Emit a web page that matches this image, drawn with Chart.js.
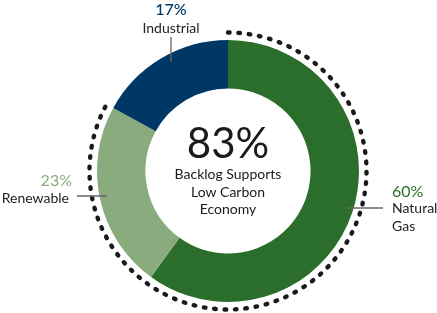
<!DOCTYPE html>
<html>
<head>
<meta charset="utf-8">
<script src="https://cdn.jsdelivr.net/npm/chart.js@4"></script>
<style>
  html, body { margin: 0; padding: 0; background: #fff; }
  #wrap { width: 437px; height: 313px; }
</style>
</head>
<body>
<div id="wrap"><canvas id="myChart"></canvas></div>
<script>
let categories = ['Natural Gas', 'Renewable', 'Industrial'];
let shares = [60, 23, 17];
let colors = ['#2b6e2b', '#8aab7e', '#003865'];
let centerLines = ['Backlog Supports', 'Low Carbon', 'Economy'];
let lowCarbon = shares[0] + shares[1];

// dotted ring round the low carbon part + all the text
let overlay = {
    id: 'overlay',
    afterDraw(chart) {
        let c = chart.ctx;
        let meta = chart.getDatasetMeta(0);
        let a0 = meta.data[0];
        let x = a0.x, y = a0.y, r = a0.outerRadius;

        c.save();
        c.strokeStyle = '#1a1a1a';
        c.lineWidth = 4.4;
        c.lineCap = 'round';
        c.setLineDash([1.6, 8.8]);
        c.beginPath();
        c.arc(x, y, r + 7.5, a0.startAngle, meta.data[1].endAngle);
        c.stroke();
        c.restore();

        c.save();
        c.textAlign = 'center';
        c.textBaseline = 'alphabetic';
        c.fillStyle = '#1a1a1a';
        c.font = '42px Lato';
        c.fillText(lowCarbon + '%', x, y - 13);
        c.font = '14px Lato';
        centerLines.forEach((t, i) => c.fillText(t, x, y + 8 + i * 17.5));

        // leader lines
        c.strokeStyle = '#666';
        c.lineWidth = 1.3;
        c.beginPath();
        c.moveTo(x - 57, y - 134); c.lineTo(x - 57, y - 109);
        c.moveTo(x - 151, y + 25); c.lineTo(x - 121, y + 25);
        c.moveTo(x + 119, y + 37); c.lineTo(x + 155, y + 37);
        c.stroke();

        // Industrial
        c.textAlign = 'center';
        c.font = '500 16px Lato';
        c.fillStyle = colors[2];
        c.fillText(shares[2] + '%', x - 57, y - 156);
        c.font = '14px Lato';
        c.fillStyle = '#222';
        c.fillText(categories[2], x - 57, y - 138);

        // Renewable
        c.textAlign = 'right';
        c.font = '16px Lato';
        c.fillStyle = colors[1];
        c.fillText(shares[1] + '%', x - 156, y + 15);
        c.font = '14px Lato';
        c.fillStyle = '#222';
        c.fillText(categories[1], x - 159, y + 32);

        // Natural Gas
        c.textAlign = 'left';
        c.font = '16px Lato';
        c.fillStyle = colors[0];
        c.fillText(shares[0] + '%', x + 164, y + 26);
        c.font = '14px Lato';
        c.fillStyle = '#222';
        c.fillText('Natural', x + 164, y + 42);
        c.fillText('Gas', x + 164, y + 60);
        c.restore();
    }
};

let ctx = document.getElementById('myChart').getContext('2d');
let myChart = new Chart(ctx, {
    type: 'doughnut',
    data: {
        labels: categories,
        datasets: [{
            data: shares,
            backgroundColor: colors,
            borderWidth: 0
        }]
    },
    options: {
        responsive: true,
        maintainAspectRatio: false,
        animation: false,
        cutout: '63%',
        layout: { padding: { left: 97, right: 78, top: 40, bottom: 11 } },
        plugins: {
            legend: { display: false },
            tooltip: { enabled: false }
        }
    },
    plugins: [overlay]
});
</script>
</body>
</html>
